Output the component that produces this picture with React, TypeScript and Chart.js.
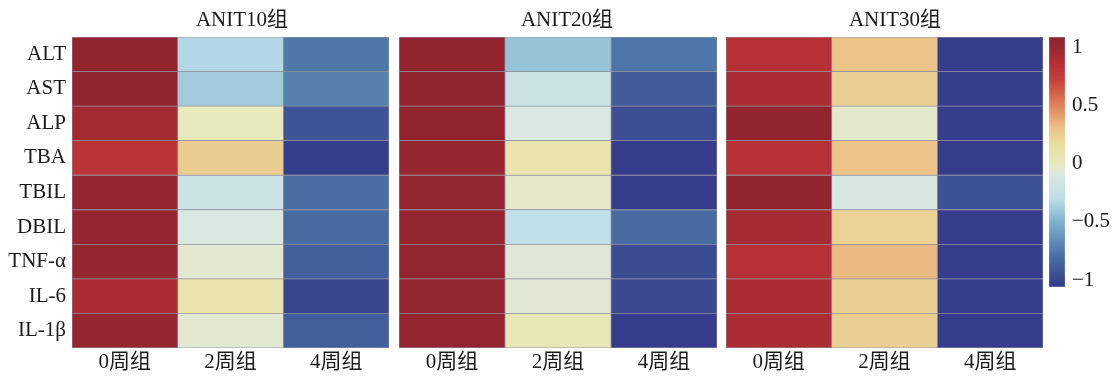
import React, { useEffect, useRef } from "react";
import { Chart, registerables } from "chart.js";
Chart.register(...registerables);

const ROWS = ["ALT", "AST", "ALP", "TBA", "TBIL", "DBIL", "TNF-α", "IL-6", "IL-1β"];
const COLS = ["0周组", "2周组", "4周组"];
const GROUPS = ["ANIT10组", "ANIT20组", "ANIT30组"];

// values per column, rows in ROWS order
const ANIT10_W0 = [1.05, 1.05, 0.93, 0.82, 1.02, 1.02, 1.0, 0.9, 1.0];
const ANIT10_W2 = [-0.33, -0.39, 0.0, 0.25, -0.2, -0.11, -0.05, 0.08, -0.05];
const ANIT10_W4 = [-0.76, -0.72, -0.93, -1.04, -0.8, -0.82, -0.88, -1.0, -0.88];

const ANIT20_W0 = [1.05, 1.05, 1.05, 1.0, 1.03, 1.03, 1.03, 1.03, 1.02];
const ANIT20_W2 = [-0.42, -0.2, -0.1, 0.08, -0.03, -0.28, -0.07, -0.06, 0.04];
const ANIT20_W4 = [-0.77, -0.9, -0.96, -1.05, -1.05, -0.81, -0.97, -0.99, -1.05];

const ANIT30_W0 = [0.85, 0.9, 1.05, 0.85, 1.05, 0.92, 0.85, 0.9, 0.9];
const ANIT30_W2 = [0.3, 0.24, -0.04, 0.3, -0.12, 0.23, 0.33, 0.24, 0.24];
const ANIT30_W4 = [-1.05, -1.05, -1.04, -1.05, -0.94, -1.05, -1.05, -1.05, -1.05];

const CB_TICKS = [-1, -0.5, 0, 0.5, 1];
const CB_MIN = -1.06;
const CB_MAX = 1.09;

const STOPS: [number, number[]][] = [
  [-1.06, [51, 58, 138]],
  [-0.8, [73, 110, 163]],
  [-0.5, [125, 178, 205]],
  [-0.3, [190, 222, 233]],
  [-0.1, [218, 232, 225]],
  [0.0, [233, 233, 190]],
  [0.15, [234, 224, 160]],
  [0.3, [236, 196, 137]],
  [0.5, [226, 130, 90]],
  [0.7, [200, 70, 60]],
  [0.85, [182, 48, 53]],
  [1.0, [150, 38, 48]],
  [1.09, [142, 35, 48]],
];

const FONT = "'Liberation Serif', 'Noto Sans CJK SC', serif";
const TEXT = "#1a1a1a";

function rgb(c: number[]) {
  return `rgb(${Math.round(c[0])},${Math.round(c[1])},${Math.round(c[2])})`;
}

function colorFor(v: number) {
  if (v <= STOPS[0][0]) return rgb(STOPS[0][1]);
  for (let i = 1; i < STOPS.length; i++) {
    const [v1, c1] = STOPS[i];
    const [v0, c0] = STOPS[i - 1];
    if (v <= v1) {
      const t = (v - v0) / (v1 - v0);
      return rgb([0, 1, 2].map((k) => c0[k] + (c1[k] - c0[k]) * t));
    }
  }
  return rgb(STOPS[STOPS.length - 1][1]);
}

function Panel({ cols, left, width, yWidth }: { cols: number[][]; left: number; width: number; yWidth: number }) {
  const ref = useRef<HTMLCanvasElement>(null);
  useEffect(() => {
    const chart = new Chart(ref.current!, {
      type: "bar",
      data: {
        labels: ROWS,
        datasets: cols.map((vals, c) => ({
          data: vals.map(() => [c, c + 1]),
          backgroundColor: vals.map(colorFor),
          borderColor: "rgba(135,135,150,0.85)",
          borderWidth: 0.75,
          borderSkipped: false,
          grouped: false,
          barPercentage: 1,
          categoryPercentage: 1,
        })) as any,
      },
      options: {
        indexAxis: "y",
        responsive: false,
        animation: false,
        layout: { padding: { top: 37, left: 0, right: 0, bottom: 0 } },
        plugins: { legend: { display: false }, tooltip: { enabled: false }, title: { display: false } },
        scales: {
          x: {
            type: "linear",
            min: 0,
            max: 3,
            grid: { display: false, drawTicks: false },
            border: { display: false },
            afterBuildTicks: (s: any) => {
              s.ticks = COLS.map((_, i) => ({ value: i + 0.5 }));
            },
            ticks: {
              callback: (_v: any, i: number) => COLS[i],
              color: TEXT,
              font: { family: FONT, size: 21 },
              padding: 2,
              maxRotation: 0,
              autoSkip: false,
            },
            afterFit: (s: any) => {
              s.height = 29;
            },
          },
          y: {
            type: "category",
            display: yWidth > 0,
            grid: { display: false, drawTicks: false },
            border: { display: false },
            ticks: { color: TEXT, font: { family: FONT, size: 21 }, padding: 6, autoSkip: false },
            afterFit: (s: any) => {
              s.width = yWidth;
            },
          },
        },
      } as any,
    });
    return () => chart.destroy();
  }, []);
  return (
    <canvas
      ref={ref}
      width={width}
      height={377}
      style={{ position: "absolute", left, top: 0, width, height: 377 }}
    />
  );
}

function ColorBar() {
  const ref = useRef<HTMLCanvasElement>(null);
  useEffect(() => {
    const chart = new Chart(ref.current!, {
      type: "bar",
      data: {
        labels: [""],
        datasets: [
          {
            data: [[CB_MIN, CB_MAX]],
            backgroundColor: (ctx: any) => {
              const ch = ctx.chart;
              if (!ch.chartArea || !ch.scales.y) return "transparent";
              const y = ch.scales.y;
              const g = ch.ctx.createLinearGradient(0, y.getPixelForValue(CB_MIN), 0, y.getPixelForValue(CB_MAX));
              STOPS.forEach(([v, c]) => g.addColorStop((v - CB_MIN) / (CB_MAX - CB_MIN), rgb(c)));
              return g;
            },
            borderColor: "rgba(200,200,210,0.9)",
            borderWidth: 0.5,
            borderSkipped: false,
            barPercentage: 1,
            categoryPercentage: 1,
          },
        ] as any,
      },
      options: {
        responsive: false,
        animation: false,
        layout: { padding: { top: 37, bottom: 90, left: 0, right: 0 } },
        plugins: { legend: { display: false }, tooltip: { enabled: false } },
        scales: {
          x: { display: false },
          y: {
            position: "right",
            min: CB_MIN,
            max: CB_MAX,
            grid: { display: false, drawTicks: false },
            border: { display: false },
            afterBuildTicks: (s: any) => {
              s.ticks = CB_TICKS.map((v) => ({ value: v }));
            },
            ticks: {
              callback: (v: any) => (v < 0 ? "\u2212" + Math.abs(v) : String(v)),
              color: TEXT,
              font: { family: FONT, size: 21 },
              padding: 7,
            },
            afterFit: (s: any) => {
              s.width = 50;
            },
          },
        },
      } as any,
    });
    return () => chart.destroy();
  }, []);
  return (
    <canvas
      ref={ref}
      width={66}
      height={377}
      style={{ position: "absolute", left: 1049, top: 0, width: 66, height: 377 }}
    />
  );
}

const TITLE_CENTERS = [242, 567, 895];

export default function App() {
  return (
    <div style={{ position: "absolute", left: 0, top: 0, width: 1115, height: 377, background: "#fff", overflow: "hidden" }}>
      <Panel cols={[ANIT10_W0, ANIT10_W2, ANIT10_W4]} left={0} width={389} yWidth={72} />
      <Panel cols={[ANIT20_W0, ANIT20_W2, ANIT20_W4]} left={399} width={318} yWidth={0} />
      <Panel cols={[ANIT30_W0, ANIT30_W2, ANIT30_W4]} left={726} width={317} yWidth={0} />
      <ColorBar />
      {GROUPS.map((g, i) => (
        <div
          key={g}
          style={{
            position: "absolute",
            left: TITLE_CENTERS[i] - 100,
            width: 200,
            top: 7,
            textAlign: "center",
            fontFamily: FONT,
            fontSize: 21,
            lineHeight: "25px",
            color: TEXT,
          }}
        >
          {g}
        </div>
      ))}
    </div>
  );
}
